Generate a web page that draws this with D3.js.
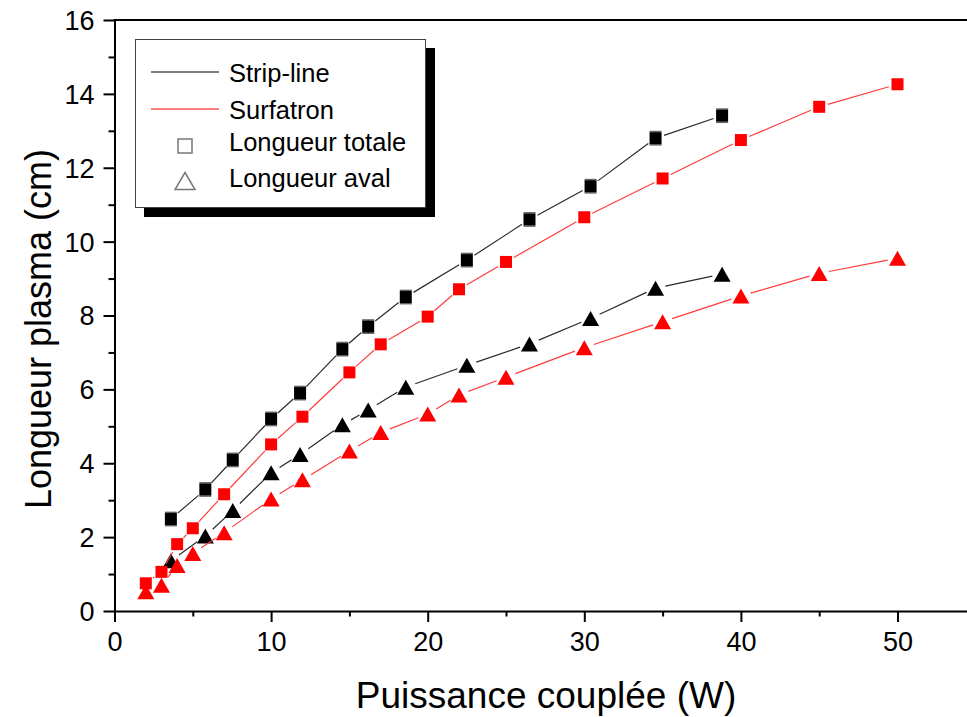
<!DOCTYPE html>
<html>
<head>
<meta charset="utf-8">
<script src="https://cdn.jsdelivr.net/npm/d3@7"></script>
<style>
  html, body { margin: 0; padding: 0; background: #fff; }
  svg { display: block; }
  text { font-family: "Liberation Sans", Arial, sans-serif; fill: #000; }
</style>
</head>
<body>
<svg id="chart" width="967" height="717"></svg>
<script>
// ---- data ----
const stripPower = [3.6, 5.8, 7.55, 10, 11.85, 14.55, 16.2, 18.6, 22.5, 26.5, 30.4, 34.55, 38.8];
const stripTotal = [2.49, 3.29, 4.09, 5.2, 5.9, 7.09, 7.7, 8.5, 9.5, 10.6, 11.5, 12.8, 13.41];
const stripTotalErr = [0.18, 0.18, 0.18, 0.18, 0.18, 0.18, 0.18, 0.18, 0.18, 0.18, 0.18, 0.18, 0.18];
const stripAval = [1.36, 2.03, 2.72, 3.74, 4.24, 5.04, 5.44, 6.06, 6.65, 7.23, 7.92, 8.74, 9.12];
const surfPower = [2, 3, 4, 5, 7, 10, 12, 15, 17, 20, 22, 25, 30, 35, 40, 45, 50];
const surfTotal = [0.75, 1.06, 1.81, 2.24, 3.16, 4.51, 5.26, 6.46, 7.22, 7.97, 8.71, 9.45, 10.66, 11.71, 12.75, 13.65, 14.26];
const surfAval = [0.52, 0.70, 1.23, 1.56, 2.12, 3.03, 3.55, 4.33, 4.83, 5.33, 5.85, 6.33, 7.13, 7.83, 8.53, 9.14, 9.55];
const xMajorTicks = [0, 10, 20, 30, 40, 50];
const xMinorTicks = [5, 15, 25, 35, 45];
const yMajorTicks = [0, 2, 4, 6, 8, 10, 12, 14, 16];
const yMinorTicks = [1, 3, 5, 7, 9, 11, 13, 15];
const legendLines = ["Strip-line", "Surfatron"];
const legendSymbols = ["Longueur totale", "Longueur aval"];
const xTitle = "Puissance couplée (W)";
const yTitle = "Longueur plasma (cm)";

// ---- layout ----
const svg = d3.select("#chart");
const x = d3.scaleLinear().domain([0, 55]).range([114.5, 975.8]);
const y = d3.scaleLinear().domain([0, 16]).range([611, 20]);

const BLACK_LINE = "#2a2a2a";
const RED = "#ff0000";
const RED_LINE = "#ff3b3b";

// axes
const xAxis = svg.append("g").attr("transform", `translate(0,${y(0)})`)
  .call(d3.axisBottom(x).tickValues(xMajorTicks).tickSize(11).tickSizeOuter(0).tickPadding(10).tickFormat(d3.format("d")));
const xMinor = svg.append("g").attr("transform", `translate(0,${y(0)})`)
  .call(d3.axisBottom(x).tickValues(xMinorTicks).tickSize(5.5).tickSizeOuter(0).tickFormat(""));
const yAxis = svg.append("g").attr("transform", `translate(${x(0)},0)`)
  .call(d3.axisLeft(y).tickValues(yMajorTicks).tickSize(11).tickSizeOuter(0).tickPadding(9).tickFormat(d3.format("d")));
const yMinor = svg.append("g").attr("transform", `translate(${x(0)},0)`)
  .call(d3.axisLeft(y).tickValues(yMinorTicks).tickSize(6).tickSizeOuter(0).tickFormat(""));

[xAxis, xMinor, yAxis, yMinor].forEach(g => {
  g.selectAll(".domain").attr("stroke", "#000").attr("stroke-width", 2);
  g.selectAll(".tick line").attr("stroke", "#000").attr("stroke-width", 2);
  g.selectAll("text").style("font-family", '"Liberation Sans", Arial, sans-serif')
    .style("font-size", "27px").attr("fill", "#000");
});
xMinor.select(".domain").remove();
yMinor.select(".domain").remove();
yAxis.selectAll(".tick text").attr("dy", "0.35em");
xAxis.selectAll(".tick text").attr("dy", "0.72em");

// top frame
svg.append("line")
  .attr("x1", x(0) - 1).attr("x2", x(55)).attr("y1", y(16)).attr("y2", y(16))
  .attr("stroke", "#000").attr("stroke-width", 2);

// axis titles
svg.append("text").attr("x", 546).attr("y", 708)
  .attr("text-anchor", "middle").style("font-size", "37px").text(xTitle);
svg.append("text").attr("transform", "translate(51,329) rotate(-90)")
  .attr("text-anchor", "middle").style("font-size", "36px").text(yTitle);

// ---- helpers ----
function gappedLine(xs, ys, color, gap) {
  const g = svg.append("g");
  for (let i = 0; i < xs.length - 1; i++) {
    const x0 = x(xs[i]), y0 = y(ys[i]), x1 = x(xs[i + 1]), y1 = y(ys[i + 1]);
    const dx = x1 - x0, dy = y1 - y0, len = Math.hypot(dx, dy);
    if (len <= 2 * gap) continue;
    const ux = dx / len, uy = dy / len;
    g.append("line")
      .attr("x1", x0 + ux * gap).attr("y1", y0 + uy * gap)
      .attr("x2", x1 - ux * gap).attr("y2", y1 - uy * gap)
      .attr("stroke", color).attr("stroke-width", 1.2);
  }
}
function triPath(w, h) {
  return `M0,${-h / 2}L${w / 2},${h / 2}L${-w / 2},${h / 2}Z`;
}
function squares(xs, ys, color, s) {
  svg.append("g").selectAll("rect").data(xs.map((d, i) => [d, ys[i]])).join("rect")
    .attr("x", d => x(d[0]) - s / 2).attr("y", d => y(d[1]) - s / 2)
    .attr("width", s).attr("height", s).attr("fill", color);
}
function triangles(xs, ys, color, w, h) {
  svg.append("g").selectAll("path").data(xs.map((d, i) => [d, ys[i]])).join("path")
    .attr("transform", d => `translate(${x(d[0])},${y(d[1])})`)
    .attr("d", triPath(w, h)).attr("fill", color);
}
function errorBars(xs, ys, es) {
  const g = svg.append("g").attr("stroke", "#666").attr("stroke-width", 1.5);
  xs.forEach((d, i) => {
    const cx = x(d), yt = y(ys[i] + es[i]), yb = y(ys[i] - es[i]);
    g.append("line").attr("x1", cx).attr("x2", cx).attr("y1", yt).attr("y2", yb);
    g.append("line").attr("x1", cx - 6).attr("x2", cx + 6).attr("y1", yt).attr("y2", yt);
    g.append("line").attr("x1", cx - 6).attr("x2", cx + 6).attr("y1", yb).attr("y2", yb);
  });
}

// ---- Strip-line (black) ----
gappedLine(stripPower, stripTotal, BLACK_LINE, 9);
gappedLine(stripPower, stripAval, BLACK_LINE, 10);
errorBars(stripPower, stripTotal, stripTotalErr);
squares(stripPower, stripTotal, "#000", 12);
triangles(stripPower, stripAval, "#000", 17, 15);

// ---- Surfatron (red) ----
gappedLine(surfPower, surfTotal, RED_LINE, 9);
gappedLine(surfPower, surfAval, RED_LINE, 10);
squares(surfPower, surfTotal, RED, 12);
triangles(surfPower, surfAval, RED, 17, 15);

// ---- legend ----
const lg = svg.append("g");
lg.append("rect").attr("x", 144).attr("y", 48).attr("width", 291).attr("height", 169).attr("fill", "#000");
lg.append("rect").attr("x", 135.5).attr("y", 39.5).attr("width", 290).attr("height", 168)
  .attr("fill", "#fff").attr("stroke", "#444").attr("stroke-width", 1);
const lineColors = ["#000", RED];
const lineYs = [72, 109];
legendLines.forEach((t, i) => {
  lg.append("line").attr("x1", 151).attr("x2", 219).attr("y1", lineYs[i]).attr("y2", lineYs[i])
    .attr("stroke", lineColors[i]).attr("stroke-width", 1.2);
  lg.append("text").attr("x", 229).attr("y", lineYs[i] + 9.5).style("font-size", "25.5px").text(t);
});
const symYs = [146, 181];
lg.append("rect").attr("x", 178).attr("y", symYs[0] - 7).attr("width", 14).attr("height", 14)
  .attr("fill", "none").attr("stroke", "#777").attr("stroke-width", 1.5);
lg.append("path").attr("transform", `translate(185,${symYs[1]})`).attr("d", triPath(20, 17))
  .attr("fill", "none").attr("stroke", "#777").attr("stroke-width", 1.5);
legendSymbols.forEach((t, i) => {
  lg.append("text").attr("x", 229).attr("y", symYs[i] + 4.5 + (i === 1 ? 1 : 0)).style("font-size", "25.5px").text(t);
});
</script>
</body>
</html>
